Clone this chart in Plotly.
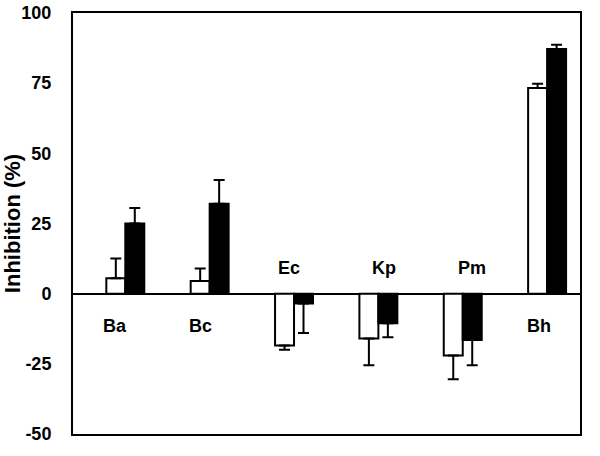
import plotly.graph_objects as go

categories = ["Ba", "Bc", "Ec", "Kp", "Pm", "Bh"]
white_vals = [5.5, 4.5, -18.5, -16.0, -22.0, 73.3]
white_err = [7.0, 4.5, 1.5, 9.5, 8.5, 1.5]
black_vals = [25.0, 32.0, -3.5, -10.5, -16.5, 87.2]
black_err = [5.5, 8.5, 10.5, 5.0, 9.0, 1.5]
label_x_offset = [-0.12, -0.11, -0.06, 0.07, 0.11, -0.10]
label_y = [-11.4, -11.4, 9.3, 9.3, 9.3, -11.4]
y_ticks = [-50, -25, 0, 25, 50, 75, 100]

FONT = "Liberation Sans, Arial"


def split_err(vals, errs):
    up = [e if v >= 0 else 0 for v, e in zip(vals, errs)]
    down = [e if v < 0 else 0 for v, e in zip(vals, errs)]
    return up, down


fig = go.Figure()
for vals, errs, fill in [(white_vals, white_err, "white"), (black_vals, black_err, "black")]:
    up, down = split_err(vals, errs)
    fig.add_trace(go.Bar(
        x=categories, y=vals,
        marker=dict(color=fill, line=dict(color="black", width=2)),
        error_y=dict(type="data", symmetric=False, array=up, arrayminus=down,
                     color="black", thickness=2, width=5.5),
        showlegend=False,
    ))

for i, (c, ly) in enumerate(zip(categories, label_y)):
    fig.add_annotation(x=i + label_x_offset[i], y=ly, text="<b>%s</b>" % c,
                       showarrow=False, xref="x", yref="y",
                       font=dict(family=FONT, size=18, color="black"))

fig.update_layout(
    width=600, height=456,
    margin=dict(l=73, r=20, t=13, b=22),
    paper_bgcolor="white", plot_bgcolor="white",
    barmode="group", bargap=0.55, bargroupgap=0,
    font=dict(family=FONT, color="black"),
)
fig.update_xaxes(showticklabels=False, showline=True, linecolor="black", linewidth=2,
                 mirror=True, ticks="", showgrid=False, range=[-0.62, 5.39],
                 automargin=False)
fig.update_yaxes(range=[-50, 100], tickvals=y_ticks,
                 ticktext=["<b>%d</b>" % t for t in y_ticks],
                 tickfont=dict(size=18, family=FONT),
                 showline=True, linecolor="black", linewidth=2, mirror=True,
                 ticks="", showgrid=False, zeroline=True, zerolinecolor="black",
                 zerolinewidth=2, ticklabelstandoff=16, automargin=False,
                 title=dict(text="<b>Inhibition (%)</b>", font=dict(size=22),
                            standoff=1))

fig.write_html("out.html", config={"displayModeBar": False},
               post_script="document.body.style.margin='0';")
